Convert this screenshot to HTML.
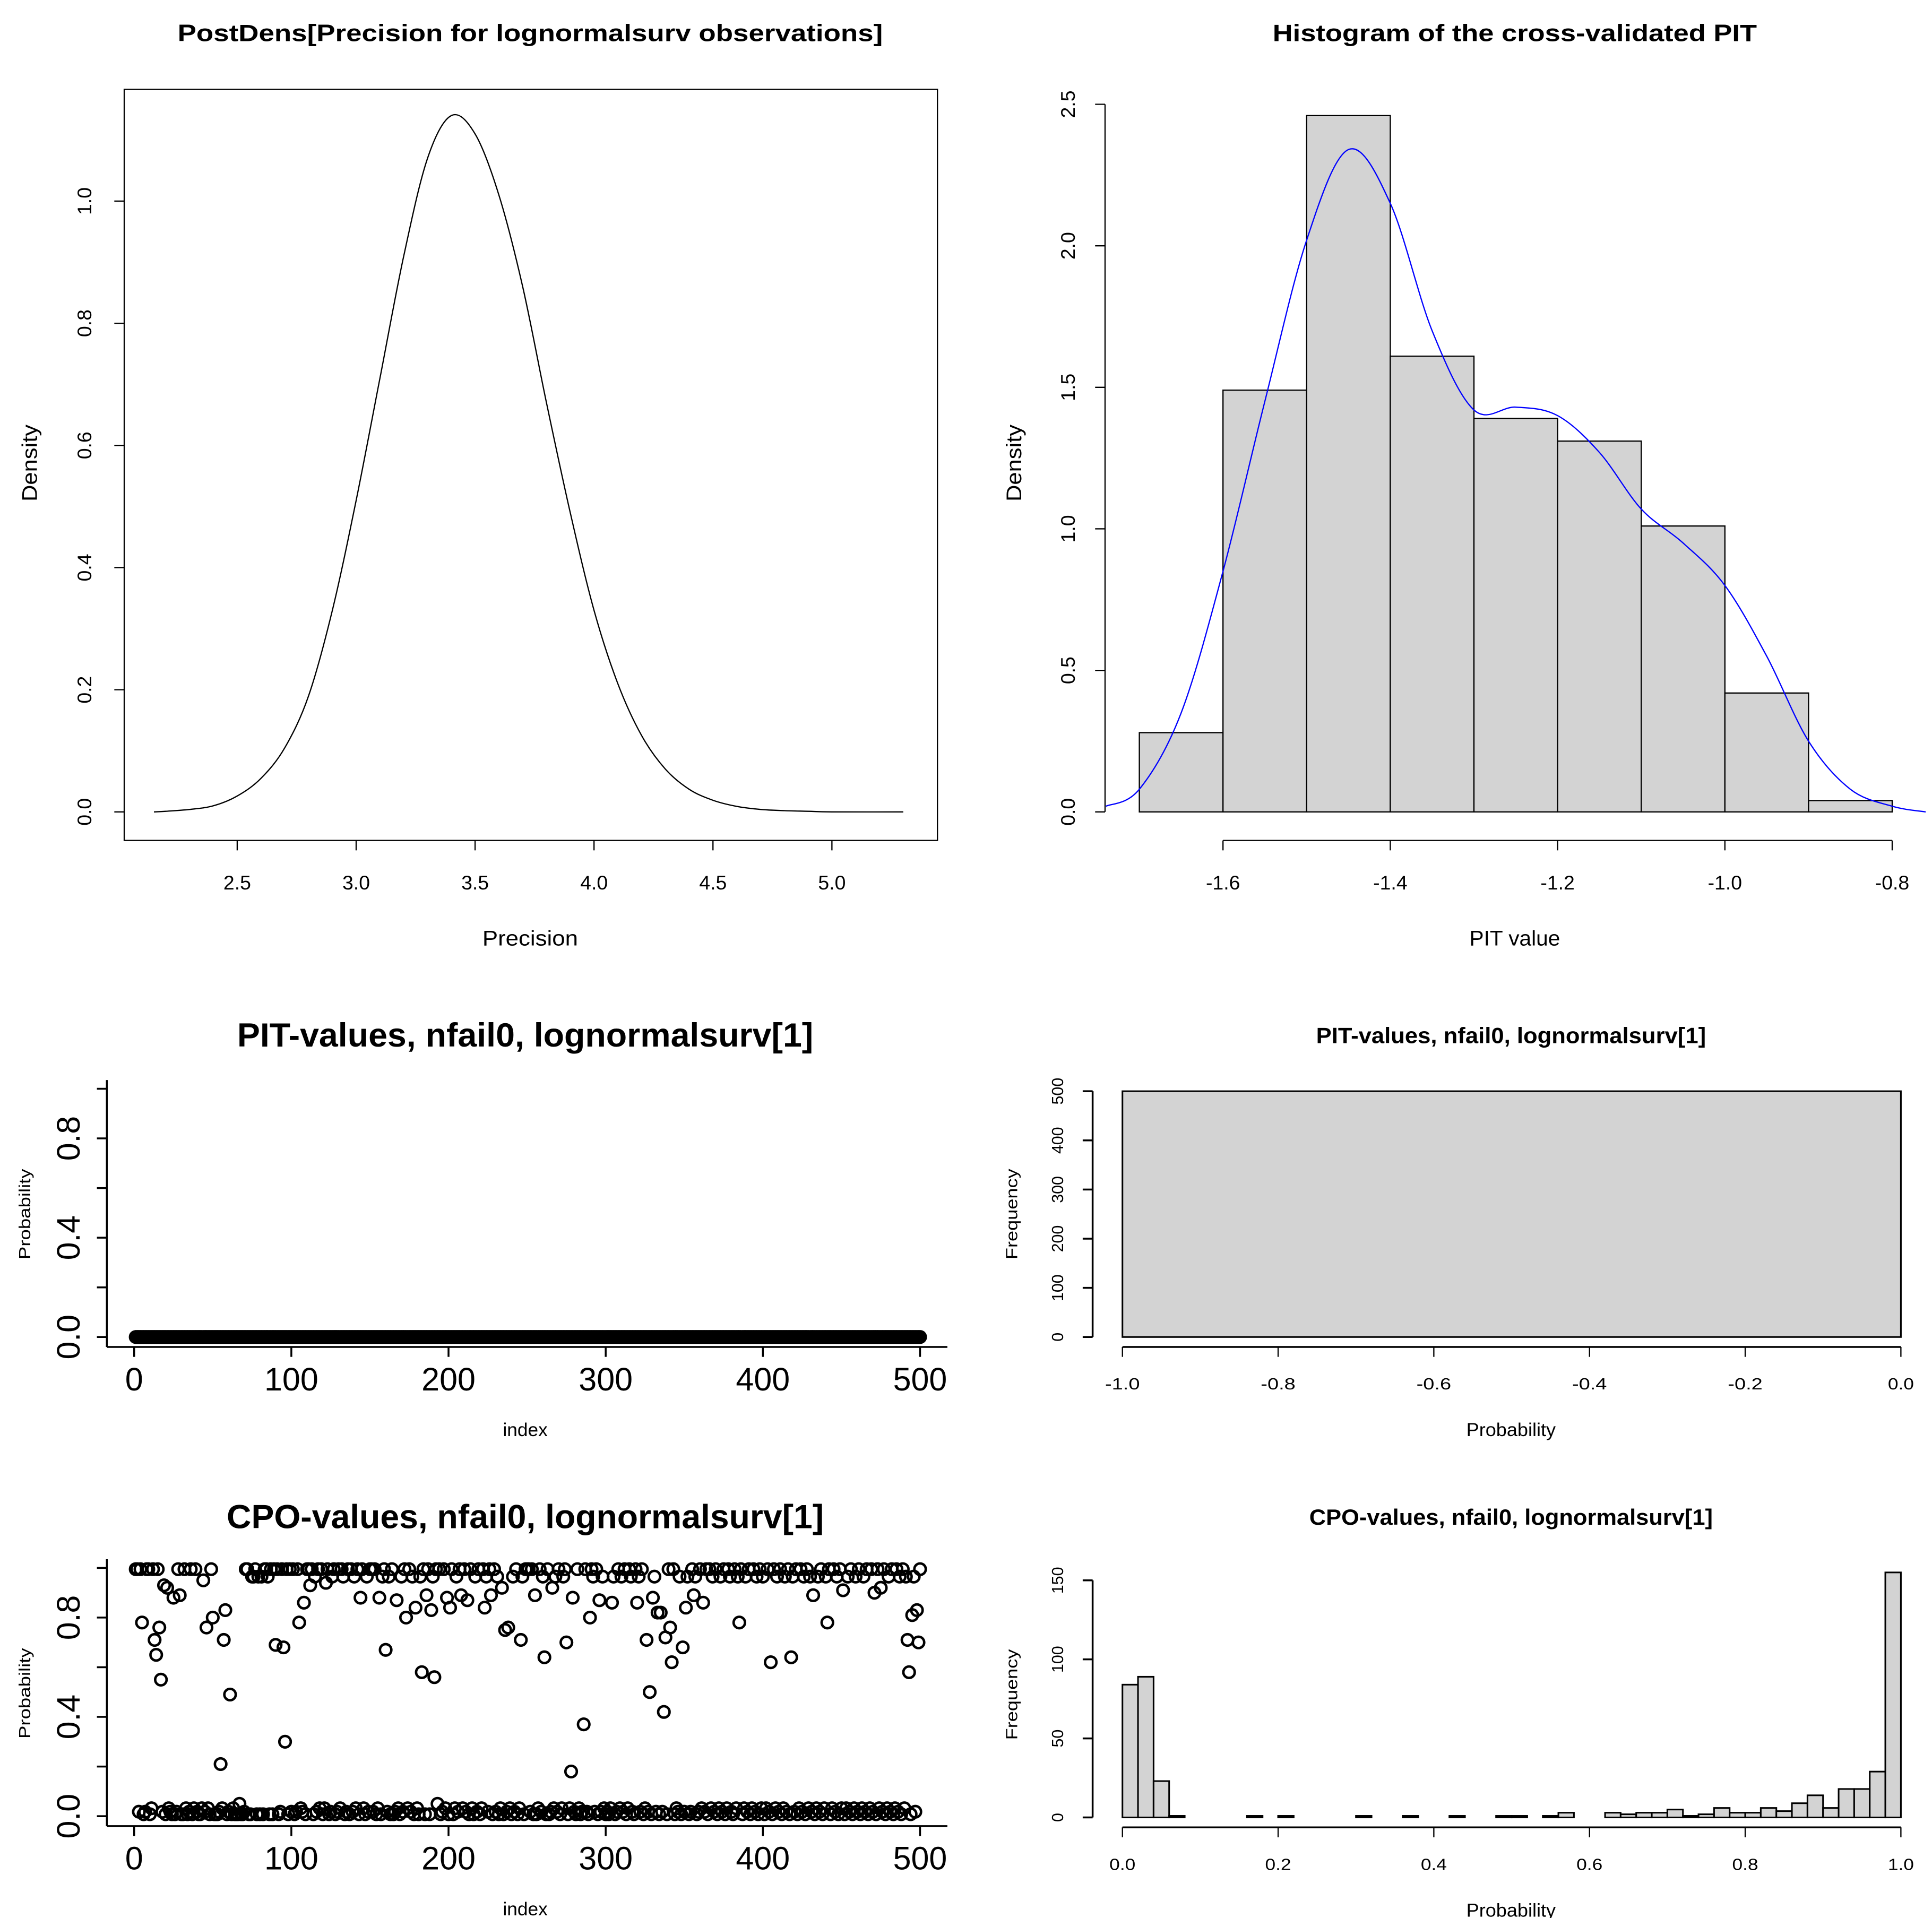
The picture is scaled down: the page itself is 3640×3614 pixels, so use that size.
<!DOCTYPE html>
<html><head><meta charset="utf-8"><style>
html,body{margin:0;padding:0;background:#fff}
svg{display:block}
text{font-family:"Liberation Sans",Arial,sans-serif;fill:#000}
</style></head><body>
<svg id="c" width="3640" height="3614" viewBox="0 0 1556 1545" xmlns="http://www.w3.org/2000/svg"></svg>
<script>
// ---- Panel 1: posterior density of precision ----
const densX = [2.15,2.2,2.3,2.4,2.5,2.6,2.7,2.8,2.9,3.0,3.1,3.2,3.3,3.4,3.5,3.6,3.7,3.8,3.9,4.0,4.1,4.2,4.3,4.4,4.5,4.6,4.7,4.8,4.9,5.0,5.3];
const densY = [0.0,0.001,0.004,0.01,0.026,0.055,0.105,0.19,0.33,0.51,0.71,0.91,1.07,1.14,1.11,1.01,0.86,0.67,0.49,0.33,0.21,0.125,0.07,0.037,0.019,0.009,0.004,0.002,0.001,0.0,0.0];
const p1XTicks = [2.5,3.0,3.5,4.0,4.5,5.0];
const p1YTicks = [0.0,0.2,0.4,0.6,0.8,1.0];
// ---- Panel 2: PIT histogram ----
const pitBreaks = [-1.7,-1.6,-1.5,-1.4,-1.3,-1.2,-1.1,-1.0,-0.9,-0.8];
const pitDens = [0.28,1.49,2.46,1.61,1.39,1.31,1.01,0.42,0.04];
const kdeX = [-1.74,-1.70,-1.65,-1.60,-1.55,-1.50,-1.45,-1.40,-1.35,-1.30,-1.25,-1.20,-1.15,-1.10,-1.05,-1.00,-0.95,-0.90,-0.85,-0.80,-0.76];
const kdeY = [0.02,0.08,0.35,0.85,1.45,2.02,2.34,2.15,1.70,1.42,1.43,1.40,1.27,1.07,0.95,0.80,0.55,0.25,0.08,0.02,0.0];
const p2XTicks = [-1.6,-1.4,-1.2,-1.0,-0.8];
const p2YTicks = [0.0,0.5,1.0,1.5,2.0,2.5];
// ---- Panel 3: PIT index plot (all values 0) ----
const pitValues = new Array(500).fill(0);
const idxTicks = [0,100,200,300,400,500];
const probTicks = [0,0.2,0.4,0.6,0.8,1.0];
const probLabels = ["0.0","","0.4","","0.8",""];
// ---- Panel 4: PIT frequency histogram ----
const pitHistBreaks = [-1.0,0.0];
const pitHistCounts = [500];
const p4XTicks = [-1.0,-0.8,-0.6,-0.4,-0.2,0.0];
const p4YTicks = [0,100,200,300,400,500];
// ---- Panel 5: CPO index plot ----
const cpoRows = [
 "9919201990"+"2919920190"+"0210201920"+"0920190291"+"0020102091",
 "0001020001"+"0020003001"+"9900889080"+"8099809099"+"9019819091",
 "9019021809"+"9190819290"+"2290189019"+"2980190918"+"2901920819",
 "9190290890"+"1809019208"+"1902918092"+"0819029018"+"0939019290",
 "0902819029"+"1809208190"+"2908192091"+"8029081920"+"8190218099",
 "9190802918"+"2090192819"+"0289102981"+"0920189102"+"9819091820",
 "1029801928"+"1902981092"+"8190281902"+"8190918209"+"1890218091",
 "9801928019"+"2819092819"+"0281902981"+"0928190281"+"9029180928",
 "0291809281"+"9028190281"+"9029180928"+"1902819028"+"1902918092",
 "9028190281"+"9028190291"+"8092819028"+"1902918092"+"8190281999"];
const cpoLevels = {"0":0.008,"1":0.018,"2":0.032,"3":0.05,"8":0.965,"9":0.995};
const cpoOutIdx = [4,12,13,15,16,18,20,24,28,43,45,49,54,56,57,60,89,94,95,104,107,111,121,143,155,159,166,172,178,182,185,188,190,198,200,207,211,222,226,233,235,237,245,254,260,265,274,277,278,285,289,295,303,319,325,327,329,332,334,336,337,340,341,348,350,355,361,384,404,417,431,440,450,470,474,491,492,494,497,498];
const cpoOutVal = [0.78,0.71,0.65,0.76,0.55,0.93,0.92,0.88,0.89,0.95,0.76,0.80,0.21,0.71,0.83,0.49,0.69,0.68,0.30,0.78,0.86,0.93,0.94,0.88,0.88,0.67,0.87,0.80,0.84,0.58,0.89,0.83,0.56,0.88,0.84,0.89,0.87,0.84,0.89,0.92,0.75,0.76,0.71,0.89,0.64,0.92,0.70,0.18,0.88,0.37,0.80,0.87,0.86,0.86,0.71,0.50,0.88,0.82,0.82,0.42,0.72,0.76,0.62,0.68,0.84,0.89,0.86,0.78,0.62,0.64,0.89,0.78,0.91,0.90,0.92,0.71,0.58,0.81,0.83,0.70];
// ---- Panel 6: CPO frequency histogram (50 bins of 0.02) ----
const cpoCounts = [84,89,23,1,0,0,0,0,1,0,1,0,0,0,0,1,0,0,1,0,0,1,0,0,1,1,0,1,3,0,0,3,2,3,3,5,1,2,6,3,3,6,4,9,14,6,18,18,29,155];
const p6XTicks = [0,0.2,0.4,0.6,0.8,1.0];
const p6YTicks = [0,50,100,150];

const NS="http://www.w3.org/2000/svg";
const svg=document.getElementById('c');
function mk(tag,attrs,parent){const e=document.createElementNS(NS,tag);for(const k in attrs)e.setAttribute(k,attrs[k]);(parent||svg).appendChild(e);return e;}
function grp(name){const g=mk('g',{});


return g;}
function txt(g,x,y,s,size,name,opts){opts=opts||{};const a={x:x,y:y,'font-size':size,'text-anchor':'middle','dominant-baseline':'central'};
if(opts.bold)a['font-weight']='bold';if(opts.rot)a.transform='rotate(-90 '+x+' '+y+')';
if(opts.len){a.textLength=opts.len;a.lengthAdjust='spacingAndGlyphs';}
const t=mk('text',a,g);t.textContent=s;


return t;}
function lin(d0,d1,r0,r1){return v=>r0+(v-d0)*(r1-r0)/(d1-d0);}
function line(g,x1,y1,x2,y2,w){return mk('line',{x1:x1,y1:y1,x2:x2,y2:y2,stroke:'#000','stroke-width':w||1},g);}
function smooth(pts){let d='M'+pts[0][0]+','+pts[0][1];
for(let i=0;i<pts.length-1;i++){const p0=pts[Math.max(0,i-1)],p1=pts[i],p2=pts[i+1],p3=pts[Math.min(pts.length-1,i+2)];
const c1=[p1[0]+(p2[0]-p0[0])/6,p1[1]+(p2[1]-p0[1])/6],c2=[p2[0]-(p3[0]-p1[0])/6,p2[1]-(p3[1]-p1[1])/6];
d+=' C'+c1[0]+','+c1[1]+' '+c2[0]+','+c2[1]+' '+p2[0]+','+p2[1];}return d;}

// Panel 1
(function(){const g=grp('posterior-density-panel');
const X=lin(2.5,5.0,191,670),Y=lin(0,1,654,162);
const box=mk('rect',{x:100,y:72,width:655,height:605,fill:'none',stroke:'#000','stroke-width':1},g);


txt(g,427,27,'PostDens[Precision for lognormalsurv observations]',19,'plot-title',{bold:true,len:568});
p1XTicks.forEach(v=>{line(g,X(v),677,X(v),685);txt(g,X(v),711,v.toFixed(1),16,'x-tick-label');});
p1YTicks.forEach(v=>{line(g,92,Y(v),100,Y(v));txt(g,68,Y(v),v.toFixed(1),16,'y-tick-label',{rot:true});});
txt(g,427,756,'Precision',17,'x-axis-title',{len:77});
txt(g,24,373,'Density',17,'y-axis-title',{rot:true,len:62});
const p=mk('path',{d:smooth(densX.map((x,i)=>[X(x),Y(densY[i])])),fill:'none',stroke:'#000','stroke-width':1},g);


})();

// Panel 2
(function(){const g=grp('pit-histogram-panel');
const X=lin(-1.6,-0.8,985,1524),Y=lin(0,2.5,654,84);
txt(g,1220,27,'Histogram of the cross-validated PIT',19,'plot-title',{bold:true,len:390});
pitDens.forEach((d,i)=>{const r=mk('rect',{x:X(pitBreaks[i]),y:Y(d),width:X(pitBreaks[i+1])-X(pitBreaks[i]),height:Y(0)-Y(d),fill:'#d3d3d3',stroke:'#000','stroke-width':1},g);

});
line(g,X(-1.6),677,X(-0.8),677);
p2XTicks.forEach(v=>{line(g,X(v),677,X(v),685);txt(g,X(v),711,v.toFixed(1),16,'x-tick-label');});
line(g,890,Y(0),890,Y(2.5));
p2YTicks.forEach(v=>{line(g,882,Y(v),890,Y(v));txt(g,860,Y(v),v.toFixed(1),16,'y-tick-label',{rot:true});});
txt(g,1220,756,'PIT value',17,'x-axis-title',{len:73});
txt(g,817,373,'Density',17,'y-axis-title',{rot:true,len:62});
const p=mk('path',{d:smooth(kdeX.map((x,i)=>[X(x),Y(kdeY[i])])),fill:'none',stroke:'#0000ff','stroke-width':1},g);


})();

function indexPanel(name,title,tlen,ty,y0,vals){const g=grp(name);
const X=lin(0,500,108,741),Y=lin(0,0.8,y0,y0-160);
txt(g,423,ty,title,27,'plot-title',{bold:true,len:tlen});
line(g,86,Y(1.0)-7,86,y0+8,1.5);
probTicks.forEach((v,i)=>{line(g,78,Y(v),86,Y(v),1.5);if(probLabels[i])txt(g,55,Y(v),probLabels[i],26,'y-tick-label',{rot:true});});
line(g,86,y0+8,763,y0+8,1.5);
idxTicks.forEach(v=>{line(g,X(v),y0+8,X(v),y0+16,1.5);txt(g,X(v),y0+34,String(v),26,'x-tick-label',{len:String(v).length*14.5});});
txt(g,423,y0+75,'index',15,'x-axis-title',{len:36});
txt(g,20,y0-99,'Probability',13,'y-axis-title',{rot:true,len:73});
vals.forEach((v,i)=>{const c=mk('circle',{cx:X(i+1),cy:Y(v),r:4.6,fill:'none',stroke:'#000','stroke-width':2},g);

});
}
indexPanel('pit-index-panel','PIT-values, nfail0, lognormalsurv[1]',464,834,1077,pitValues);
const cpoValues=cpoRows.join('').slice(0,500).split('').map(ch=>cpoLevels[ch]!==undefined?cpoLevels[ch]:0.99);
cpoOutIdx.forEach((k,j)=>{cpoValues[k]=cpoOutVal[j];});
indexPanel('cpo-index-panel','CPO-values, nfail0, lognormalsurv[1]',481,1222,1463,cpoValues);

function freqPanel(name,title,tlen,ty,y0,yTop,vTop,xd0,xd1,xt,yt,breaks,counts){const g=grp(name);
const X=lin(xd0,xd1,904,1531),Y=lin(0,vTop,y0,yTop);
txt(g,1217,ty,title,18,'plot-title',{bold:true,len:tlen});
counts.forEach((c,i)=>{const r=mk('rect',{x:X(breaks[i]),y:Y(c),width:X(breaks[i+1])-X(breaks[i]),height:Y(0)-Y(c),fill:'#d3d3d3',stroke:'#000','stroke-width':1.3},g);

});
line(g,904,y0+8,1531,y0+8,1.5);
xt.forEach(v=>{line(g,X(v),y0+8,X(v),y0+16,1);const s=v.toFixed(1);txt(g,X(v),y0+38,s,13,'x-tick-label',{len:s.length*7});});
line(g,880,Y(yt[0]),880,Y(yt[yt.length-1]),1.5);
yt.forEach(v=>{line(g,872,Y(v),880,Y(v),1.5);txt(g,852,Y(v),String(v),13,'y-tick-label',{rot:true});});
txt(g,1217,y0+75,'Probability',15,'x-axis-title',{len:72});
txt(g,815,y0-99,'Frequency',13,'y-axis-title',{rot:true,len:73});
}
freqPanel('pit-frequency-panel','PIT-values, nfail0, lognormalsurv[1]',314,834,1077,879,500,-1.0,0.0,p4XTicks,p4YTicks,pitHistBreaks,pitHistCounts);
const cpoBreaks=cpoCounts.map((c,i)=>i*0.02).concat([1.0]);
freqPanel('cpo-frequency-panel','CPO-values, nfail0, lognormalsurv[1]',325,1222,1464,1273,150,0,1.0,p6XTicks,p6YTicks,cpoBreaks,cpoCounts);
</script>
</body></html>
